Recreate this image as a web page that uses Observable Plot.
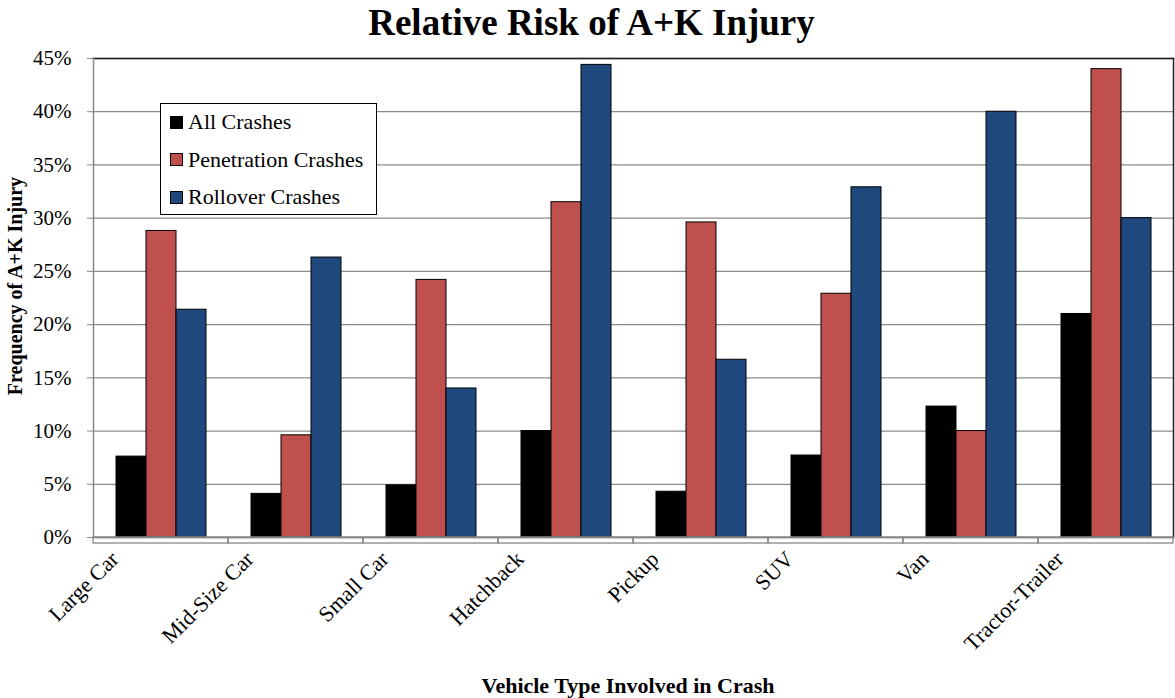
<!DOCTYPE html>
<html><head><meta charset="utf-8">
<script src="https://cdn.jsdelivr.net/npm/d3@7"></script>
<script src="https://cdn.jsdelivr.net/npm/@observablehq/plot@0.6"></script>
<style>
body{margin:0;background:#fff;font-family:"Liberation Serif","Times New Roman",serif;color:#000;}
#wrap{position:relative;width:1175px;height:698px;overflow:hidden;font-family:"Liberation Serif","Times New Roman",serif;}
#wrap svg{position:absolute;left:0;top:0;}
.title{position:absolute;left:0;top:4px;width:1183px;text-align:center;font-weight:bold;font-size:37px;line-height:37px;white-space:nowrap;}
.ylab{position:absolute;left:15px;top:286px;transform:translate(-50%,-50%) rotate(-90deg);font-weight:bold;font-size:20px;line-height:20px;white-space:nowrap;}
.xlab{position:absolute;left:628px;top:675px;transform:translateX(-50%);font-weight:bold;font-size:22px;line-height:22px;white-space:nowrap;}
.legend{position:absolute;left:160px;top:103px;width:215px;height:110px;border:1.5px solid #000;background:#fff;font-size:22px;font-family:"Liberation Serif","Times New Roman",serif;}
.legend .row{position:absolute;left:9px;display:flex;align-items:center;white-space:nowrap;}
.legend .sw{width:11px;height:11px;border:1px solid #000;margin-right:5px;}
</style></head><body><div id="wrap"></div>
<script>
const categories = ["Large Car","Mid-Size Car","Small Car","Hatchback","Pickup","SUV","Van","Tractor-Trailer"];
const seriesNames = ["All Crashes","Penetration Crashes","Rollover Crashes"];
const allCrashes  = [7.6, 4.1, 4.9, 10.0, 4.3, 7.7, 12.3, 21.0];
const penetration = [28.8, 9.6, 24.2, 31.5, 29.6, 22.9, 10.0, 44.0];
const rollover    = [21.4, 26.3, 14.0, 44.4, 16.7, 32.9, 40.0, 30.0];
const colors = ["#000000","#C0504D","#1F497D"];
const yTicks = [0,5,10,15,20,25,30,35,40,45];

const seriesValues = [allCrashes, penetration, rollover];
const data = categories.flatMap((c,i)=>seriesNames.map((s,j)=>({category:c, series:s, value:seriesValues[j][i]})));

const chart = Plot.plot({
  width:1175, height:698,
  marginLeft:92, marginRight:2, marginTop:58, marginBottom:161,
  style:{fontFamily:"Liberation Serif, Times New Roman, serif", fontSize:"21px", color:"#000", background:"transparent", overflow:"visible"},
  fx:{domain:categories, padding:0, label:null},
  x:{domain:seriesNames, paddingInner:0, paddingOuter:0.75, axis:null},
  y:{domain:[0,45], ticks:yTicks, tickFormat:d=>d+"%", tickSize:6, tickPadding:16, label:null},
  color:{domain:seriesNames, range:colors},
  marks:[
    Plot.axisY({ticks:yTicks, tickFormat:d=>d+"%", tickSize:6, tickPadding:16, stroke:"#888", label:null}),
    Plot.axisFx({anchor:"bottom", tickSize:0, tickRotate:-45, tickPadding:18, fontSize:22, dx:-46, label:null}),
    Plot.gridY(yTicks, {stroke:"#8c8c8c", strokeOpacity:1, strokeWidth:1.3}),
    Plot.barY(data, {fx:"category", x:"series", y:"value", fill:"series", stroke:"#000", strokeWidth:1}),
    Plot.rect([0], {y1:0, y2:0, insetBottom:-6, fill:"none", stroke:"#888", strokeWidth:1.3}),
    Plot.frame({facet:"super", anchor:"top", stroke:"#222", strokeWidth:1.5}),
    Plot.frame({facet:"super", anchor:"right", stroke:"#222", strokeWidth:1.5}),
    Plot.frame({facet:"super", anchor:"left", stroke:"#888", strokeWidth:1.5}),
    Plot.frame({facet:"super", anchor:"bottom", stroke:"#888", strokeWidth:1.5})
  ]
});
const wrap = document.getElementById("wrap");
wrap.appendChild(chart);

const t = document.createElement("div"); t.className="title"; t.textContent="Relative Risk of A+K Injury"; wrap.appendChild(t);
const yl = document.createElement("div"); yl.className="ylab"; yl.textContent="Frequency of A+K Injury"; wrap.appendChild(yl);
const xl = document.createElement("div"); xl.className="xlab"; xl.textContent="Vehicle Type Involved in Crash"; wrap.appendChild(xl);
const lg = document.createElement("div"); lg.className="legend";
seriesNames.forEach((s,i)=>{
  const r=document.createElement("div"); r.className="row"; r.style.top=(5+i*37.5)+"px";
  const sw=document.createElement("div"); sw.className="sw"; sw.style.background=colors[i];
  const tx=document.createElement("span"); tx.textContent=s;
  r.appendChild(sw); r.appendChild(tx); lg.appendChild(r);
});
wrap.appendChild(lg);
</script></body></html>
